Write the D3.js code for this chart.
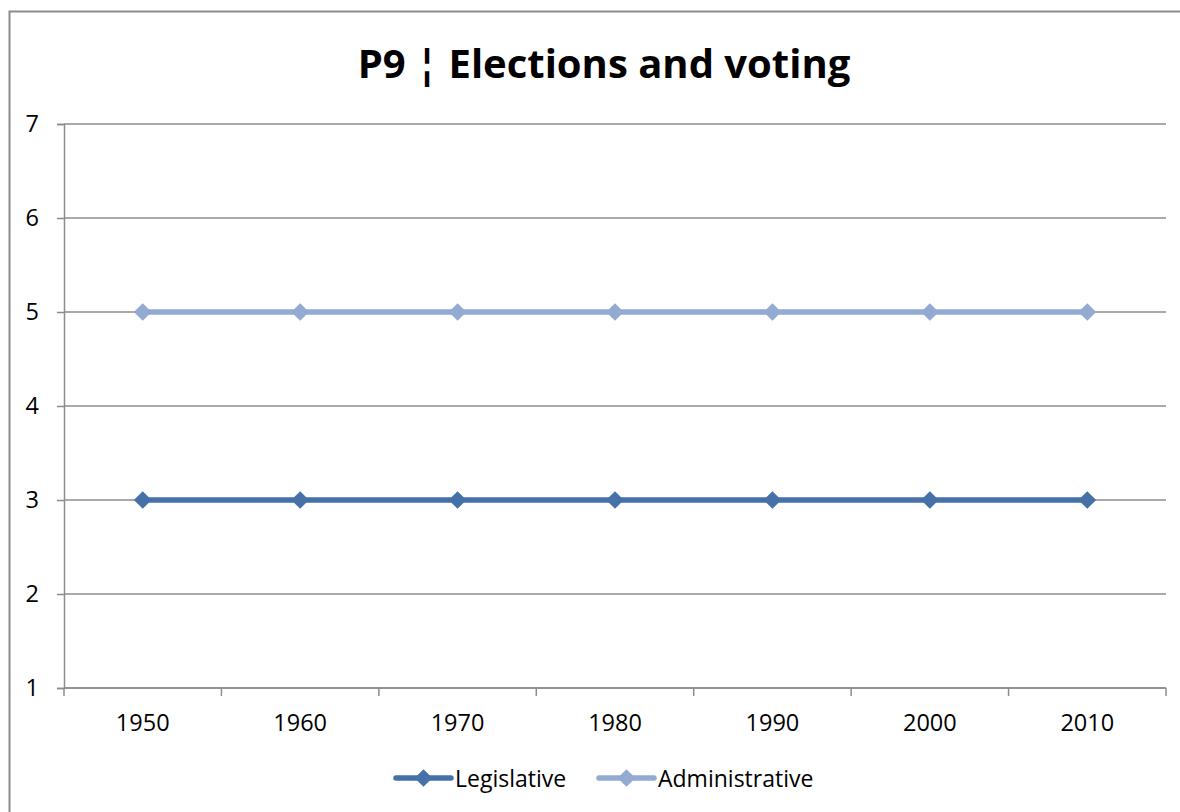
<!DOCTYPE html>
<html>
<head>
<meta charset="utf-8">
<script src="https://cdn.jsdelivr.net/npm/d3@7"></script>
<style>
  html, body { margin: 0; padding: 0; background: #fff; }
  svg { display: block; font-family: "Open Sans", "Noto Sans", sans-serif; }
</style>
</head>
<body>
<svg id="chart" width="1180" height="812"></svg>
<script>
// Series data
const years = ["1950", "1960", "1970", "1980", "1990", "2000", "2010"];
const legislative = [3, 3, 3, 3, 3, 3, 3];
const administrative = [5, 5, 5, 5, 5, 5, 5];
const yTicks = [1, 2, 3, 4, 5, 6, 7];
const seriesNames = ["Legislative", "Administrative"];
const seriesColors = ["#4671a8", "#93aad3"];

const svg = d3.select("#chart");
const plot = { left: 64, right: 1166, top: 124, bottom: 688 };

// Outer chart frame (runs past the right and bottom edges)
svg.append("rect")
  .attr("x", 9.5).attr("y", 11.5)
  .attr("width", 1200).attr("height", 900)
  .attr("fill", "#fff")
  .attr("stroke", "#8c8c8c").attr("stroke-width", 2);

// Title
svg.append("text")
  .attr("x", 604).attr("y", 78)
  .attr("text-anchor", "middle")
  .attr("font-size", 40).attr("font-weight", "bold")
  .attr("fill", "#000")
  .text("P9 ¦ Elections and voting");

const x = d3.scaleBand().domain(years).range([plot.left, plot.right]);
const y = d3.scaleLinear().domain([1, 7]).range([plot.bottom, plot.top]);

// Horizontal gridlines
svg.append("g")
  .selectAll("line")
  .data(yTicks)
  .join("line")
  .attr("x1", plot.left).attr("x2", plot.right)
  .attr("y1", d => y(d)).attr("y2", d => y(d))
  .attr("stroke", "#8c8c8c").attr("stroke-width", 1.5);

// Y axis
const yAxis = svg.append("g")
  .attr("transform", `translate(${plot.left},0)`)
  .call(d3.axisLeft(y).tickValues(yTicks).tickSize(7).tickPadding(18).tickFormat(d3.format("d")));
yAxis.select(".domain").attr("stroke", "#8c8c8c").attr("stroke-width", 1.5);
yAxis.selectAll(".tick line").attr("stroke", "#8c8c8c").attr("stroke-width", 1.5);
yAxis.selectAll(".tick text")
  .attr("font-size", 23.5).attr("fill", "#000")
  .attr("font-family", "'Open Sans', sans-serif");

// X axis with ticks at category boundaries
const xAxisG = svg.append("g").attr("transform", `translate(0,${plot.bottom})`);
xAxisG.append("line")
  .attr("x1", plot.left).attr("x2", plot.right)
  .attr("stroke", "#8c8c8c").attr("stroke-width", 1.5);
const boundaries = years.map(d => x(d)).concat([x(years[years.length - 1]) + x.bandwidth()]);
xAxisG.selectAll("line.tk")
  .data(boundaries)
  .join("line")
  .attr("class", "tk")
  .attr("x1", d => d).attr("x2", d => d)
  .attr("y1", 0).attr("y2", 8)
  .attr("stroke", "#8c8c8c").attr("stroke-width", 1.5);
xAxisG.selectAll("text")
  .data(years)
  .join("text")
  .attr("x", d => x(d) + x.bandwidth() / 2)
  .attr("y", 43)
  .attr("text-anchor", "middle")
  .attr("font-size", 23.5).attr("fill", "#000")
  .text(d => d);

// Lines and diamond markers
const line = d3.line()
  .x((d, i) => x(years[i]) + x.bandwidth() / 2)
  .y(d => y(d));
const diamond = d3.symbol().type(d3.symbolDiamond2).size(200);

[legislative, administrative].forEach((vals, si) => {
  svg.append("path")
    .datum(vals)
    .attr("d", line)
    .attr("fill", "none")
    .attr("stroke", seriesColors[si])
    .attr("stroke-width", 5.5)
    .attr("stroke-linecap", "round");
  svg.append("g")
    .selectAll("path")
    .data(vals)
    .join("path")
    .attr("d", diamond)
    .attr("transform", (d, i) => `translate(${x(years[i]) + x.bandwidth() / 2},${y(d)})`)
    .attr("fill", seriesColors[si]);
});

// Legend
const legendItems = [
  { name: seriesNames[0], color: seriesColors[0], x0: 396 },
  { name: seriesNames[1], color: seriesColors[1], x0: 599 }
];
const lg = svg.append("g").attr("transform", "translate(0,778)");
legendItems.forEach(it => {
  lg.append("line")
    .attr("x1", it.x0).attr("x2", it.x0 + 55)
    .attr("stroke", it.color).attr("stroke-width", 5.5)
    .attr("stroke-linecap", "round");
  lg.append("path")
    .attr("d", diamond)
    .attr("transform", `translate(${it.x0 + 27.5},0)`)
    .attr("fill", it.color);
  lg.append("text")
    .attr("x", it.x0 + 59).attr("y", 8.5)
    .attr("font-size", 23).attr("fill", "#000")
    .text(it.name);
});
</script>
</body>
</html>
